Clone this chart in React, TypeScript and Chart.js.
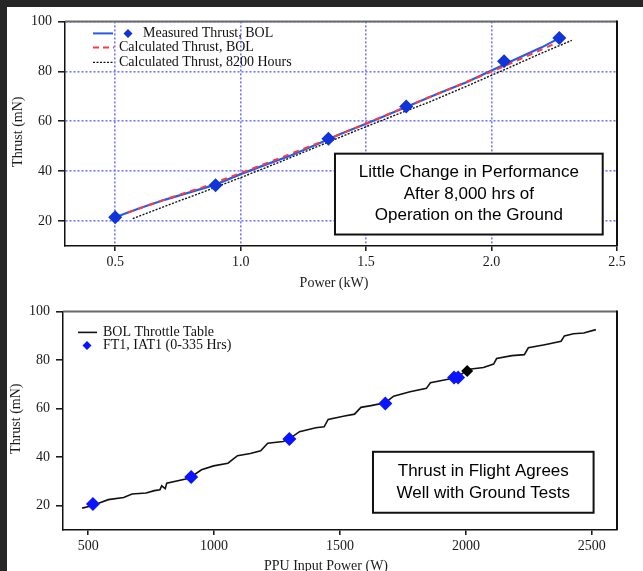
import { useEffect, useRef } from 'react';
import { Chart, registerables } from 'chart.js';

Chart.register(...registerables);

const SERIF = '"Liberation Serif", "Times New Roman", serif';
const SANS = '"Liberation Sans", Arial, sans-serif';

// ---- Upper panel: ground test, thrust vs power (kW) ----
const measuredPowerKW = [0.5, 0.9, 1.35, 1.66, 2.05, 2.27];
const measuredThrustMN = [21.5, 34.3, 53.0, 65.9, 84.0, 93.3];

const measuredCurvePowerKW = [0.5, 0.6, 0.7, 0.8, 0.9, 1.0, 1.1, 1.2, 1.3, 1.4, 1.5, 1.6, 1.7, 1.8, 1.9, 2.0, 2.1, 2.2, 2.27];
const measuredCurveThrustMN = [21.5, 25.2, 28.6, 31.6, 34.6, 38.8, 42.6, 46.3, 50.6, 55.0, 59.0, 63.2, 67.4, 71.6, 75.6, 80.3, 85.0, 89.6, 93.3];

const calcBolPowerKW = [0.55, 0.7, 0.85, 1.0, 1.15, 1.3, 1.45, 1.6, 1.75, 1.9, 2.05, 2.25];
const calcBolThrustMN = [23.4, 28.7, 33.6, 39.2, 45.0, 50.9, 57.0, 63.3, 69.6, 75.7, 82.0, 91.0];

const calc8200PowerKW = [0.57, 0.7, 0.85, 1.0, 1.15, 1.3, 1.45, 1.6, 1.75, 1.9, 2.05, 2.2, 2.32];
const calc8200ThrustMN = [21.0, 26.0, 31.6, 37.4, 43.4, 49.6, 55.8, 61.8, 67.6, 74.0, 80.6, 87.3, 92.4];

const upperXTicks = [0.5, 1.0, 1.5, 2.0, 2.5];
const upperYTicks = [20, 40, 60, 80, 100];

// ---- Lower panel: flight data vs throttle table, thrust vs PPU input power (W) ----
const throttlePowerW = [476, 503, 544, 580, 641, 674, 730, 763, 785, 792, 806, 812, 901, 950, 998, 1055, 1093, 1144, 1185, 1213, 1274, 1299, 1339, 1404, 1437, 1453, 1518, 1558, 1583, 1623, 1680, 1713, 1778, 1843, 1859, 1924, 1964, 2005, 2013, 2070, 2110, 2122, 2183, 2232, 2248, 2313, 2378, 2391, 2427, 2468, 2516];
const throttleThrustMN = [19.0, 19.7, 21.1, 22.5, 23.4, 24.8, 25.2, 26.2, 26.6, 28.2, 27.0, 29.3, 31.3, 34.8, 36.4, 37.5, 40.6, 41.5, 42.6, 45.7, 46.4, 47.5, 50.5, 52.1, 52.5, 55.5, 56.9, 57.7, 60.5, 61.2, 62.4, 65.1, 66.9, 68.3, 70.6, 72.0, 72.8, 75.8, 76.2, 76.9, 78.3, 80.6, 81.8, 82.2, 85.0, 86.3, 87.7, 89.9, 90.8, 91.1, 92.5];

const flightPowerW = [519, 909, 1299, 1680, 1953, 1969];
const flightThrustMN = [20.7, 31.8, 47.5, 62.1, 72.8, 72.8];

const extraPowerW = [2005];
const extraThrustMN = [75.5];

const lowerXTicks = [500, 1000, 1500, 2000, 2500];
const lowerYTicks = [20, 40, 60, 80, 100];

const upperNote = ['Little Change in Performance', 'After 8,000 hrs of', 'Operation on the Ground'];
const lowerNote = ['Thrust in Flight Agrees', 'Well with Ground Tests'];

const pairs = (xs: number[], ys: number[]) => xs.map((x, i) => ({ x, y: ys[i] }));

function diamond(ctx: CanvasRenderingContext2D, x: number, y: number, r: number, color: string) {
  ctx.save();
  ctx.beginPath();
  ctx.moveTo(x, y - r);
  ctx.lineTo(x + r, y);
  ctx.lineTo(x, y + r);
  ctx.lineTo(x - r, y);
  ctx.closePath();
  ctx.fillStyle = color;
  ctx.fill();
  ctx.restore();
}

function sampleLine(ctx: CanvasRenderingContext2D, x1: number, x2: number, y: number, color: string, width: number, dash: number[]) {
  ctx.save();
  ctx.beginPath();
  ctx.setLineDash(dash);
  ctx.strokeStyle = color;
  ctx.lineWidth = width;
  ctx.moveTo(x1, y);
  ctx.lineTo(x2, y);
  ctx.stroke();
  ctx.restore();
}

// Frame (top and right edges), note box and axis titles
function framePlugin(id: string, note: string[], box: [number, number, number, number], xTitle: string, xTitleShift: number, xTitleDrop: number, yTitleX: number) {
  return {
    id,
    afterDraw(chart: any) {
      const { ctx, chartArea: a, scales } = chart;
      ctx.save();
      // top + right edges of the plot frame
      ctx.strokeStyle = '#6a6a6a';
      ctx.lineWidth = 2;
      ctx.beginPath();
      ctx.moveTo(a.left, a.top);
      ctx.lineTo(a.right, a.top);
      ctx.stroke();
      ctx.strokeStyle = '#111';
      ctx.lineWidth = 2;
      ctx.beginPath();
      ctx.moveTo(a.right, a.top - 1);
      ctx.lineTo(a.right, a.bottom);
      ctx.stroke();

      // note box
      const x1 = scales.x.getPixelForValue(box[0]);
      const x2 = scales.x.getPixelForValue(box[1]);
      const y1 = scales.y.getPixelForValue(box[2]);
      const y2 = scales.y.getPixelForValue(box[3]);
      ctx.fillStyle = '#fff';
      ctx.fillRect(x1, y1, x2 - x1, y2 - y1);
      ctx.strokeStyle = '#111';
      ctx.lineWidth = 2;
      ctx.strokeRect(x1, y1, x2 - x1, y2 - y1);
      ctx.fillStyle = '#000';
      ctx.font = `17px ${SANS}`;
      ctx.textAlign = 'center';
      ctx.textBaseline = 'middle';
      const lh = 21.5;
      const cy = (y1 + y2) / 2;
      note.forEach((t, i) => {
        ctx.fillText(t, (x1 + x2) / 2, cy + (i - (note.length - 1) / 2) * lh);
      });

      // axis titles
      ctx.font = `14px ${SERIF}`;
      ctx.fillStyle = '#1a1a1a';
      ctx.fillText(xTitle, (a.left + a.right) / 2 + xTitleShift, a.bottom + xTitleDrop);
      ctx.translate(yTitleX, (a.top + a.bottom) / 2 - 2);
      ctx.rotate(-Math.PI / 2);
      ctx.fillText('Thrust (mN)', 0, 0);
      ctx.restore();
    },
  };
}

const upperLegend = {
  id: 'upperLegend',
  afterDraw(chart: any) {
    const { ctx, chartArea: a } = chart;
    const ds = chart.data.datasets;
    ctx.save();
    ctx.font = `14px ${SERIF}`;
    ctx.textAlign = 'left';
    ctx.textBaseline = 'middle';
    const l = a.left;
    let y = a.top + 12;
    sampleLine(ctx, l + 28, l + 48, y, '#2a5be8', 2, []);
    diamond(ctx, l + 63, y, 4.5, '#1034d8');
    ctx.fillStyle = '#111';
    ctx.fillText(ds[1].label, l + 78, y);
    y = a.top + 26;
    sampleLine(ctx, l + 28, l + 49, y, '#ff3b3b', 2, [6, 4]);
    ctx.fillText(ds[2].label, l + 54, y);
    y = a.top + 41;
    sampleLine(ctx, l + 28, l + 49, y, '#111', 1.2, [2, 1.5]);
    ctx.fillText(ds[3].label, l + 54, y);
    ctx.restore();
  },
};

const lowerLegend = {
  id: 'lowerLegend',
  afterDraw(chart: any) {
    const { ctx, chartArea: a } = chart;
    const ds = chart.data.datasets;
    ctx.save();
    ctx.font = `14px ${SERIF}`;
    ctx.textAlign = 'left';
    ctx.textBaseline = 'middle';
    const l = a.left;
    sampleLine(ctx, l + 15, l + 34, a.top + 21, '#111', 1.6, []);
    diamond(ctx, l + 24, a.top + 34, 4.5, '#0a14ff');
    ctx.fillStyle = '#111';
    ctx.fillText(ds[0].label, l + 40, a.top + 21);
    ctx.fillText(ds[1].label, l + 40, a.top + 34);
    ctx.restore();
  },
};

function axes(xMin: number, xMax: number, xTicks: number[], yTicks: number[], gridOn: boolean, yWidth: number, xHeight: number, fmt: (v: number) => string) {
  const tickFont = { family: SERIF, size: 14 };
  const gridColor = gridOn ? '#7474ff' : 'rgba(0,0,0,0)';
  return {
    x: {
      type: 'linear',
      min: xMin,
      max: xMax,
      afterBuildTicks: (s: any) => { s.ticks = xTicks.map((value) => ({ value })); },
      afterFit: (s: any) => { s.height = xHeight; },
      ticks: { font: tickFont, color: '#1a1a1a', padding: 3, maxRotation: 0, callback: (v: any) => fmt(Number(v)) },
      grid: { color: gridColor, lineWidth: 1.6, drawOnChartArea: gridOn, tickColor: '#111', tickLength: 5, tickWidth: 1.5 },
      border: { display: true, color: '#111', width: 1.5, dash: [2, 2] },
    },
    y: {
      type: 'linear',
      min: 10,
      max: 100,
      afterBuildTicks: (s: any) => { s.ticks = yTicks.map((value) => ({ value })); },
      afterFit: (s: any) => { s.width = yWidth; },
      ticks: { font: tickFont, color: '#1a1a1a', padding: 6 },
      grid: { color: gridColor, lineWidth: 1.6, drawOnChartArea: gridOn, tickColor: '#111', tickLength: 7, tickWidth: 1.5 },
      border: { display: true, color: '#111', width: 1.5, dash: [2, 2] },
    },
  };
}

function upperConfig(): any {
  return {
    type: 'line',
    data: {
      datasets: [
        { label: 'Measured curve', data: pairs(measuredCurvePowerKW, measuredCurveThrustMN), borderColor: '#2a5be8', borderWidth: 2.2, pointRadius: 0, order: 2 },
        { label: 'Measured Thrust, BOL', data: pairs(measuredPowerKW, measuredThrustMN), showLine: false, pointStyle: 'rectRot', pointRadius: 7, backgroundColor: '#1034d8', borderColor: '#1034d8', borderWidth: 0, order: 0 },
        { label: 'Calculated Thrust, BOL', data: pairs(calcBolPowerKW, calcBolThrustMN), borderColor: '#ff3b3b', borderWidth: 2, borderDash: [6, 5], pointRadius: 0, order: 1 },
        { label: 'Calculated Thrust, 8200 Hours', data: pairs(calc8200PowerKW, calc8200ThrustMN), borderColor: '#111', borderWidth: 1.4, borderDash: [2, 1.5], pointRadius: 0, order: 3 },
      ],
    },
    options: {
      animation: false,
      responsive: false,
      events: [],
      layout: { padding: { top: 10, right: 26, left: 0, bottom: 0 } },
      elements: { line: { tension: 0 } },
      plugins: { legend: { display: false }, tooltip: { enabled: false } },
      scales: axes(0.3, 2.5, upperXTicks, upperYTicks, true, 58, 51, (v) => v.toFixed(1)),
    },
    plugins: [framePlugin('upperFrame', upperNote, [1.376, 2.443, 47.0, 14.6], 'Power (kW)', -7, 37, 11), upperLegend],
  };
}

function lowerConfig(): any {
  return {
    type: 'line',
    data: {
      datasets: [
        { label: 'BOL Throttle Table', data: pairs(throttlePowerW, throttleThrustMN), borderColor: '#111', borderWidth: 1.6, pointRadius: 0, order: 2 },
        { label: 'FT1, IAT1 (0-335 Hrs)', data: pairs(flightPowerW, flightThrustMN), showLine: false, pointStyle: 'rectRot', pointRadius: 7, backgroundColor: '#0a14ff', borderColor: '#0a14ff', borderWidth: 0, order: 0 },
        { label: '', data: pairs(extraPowerW, extraThrustMN), showLine: false, pointStyle: 'rectRot', pointRadius: 6, backgroundColor: '#000', borderColor: '#000', borderWidth: 0, order: 1 },
      ],
    },
    options: {
      animation: false,
      responsive: false,
      events: [],
      layout: { padding: { top: 14, right: 26, left: 0, bottom: 0 } },
      elements: { line: { tension: 0 } },
      plugins: { legend: { display: false }, tooltip: { enabled: false } },
      scales: axes(400, 2600, lowerXTicks, lowerYTicks, false, 56, 41, (v) => String(v)),
    },
    plugins: [framePlugin('lowerFrame', lowerNote, [1631, 2507, 42.2, 17.1], 'PPU Input Power (W)', -14, 36, 9.5), lowerLegend],
  };
}

function ChartCanvas({ make, width, height }: { make: () => any; width: number; height: number }) {
  const ref = useRef<HTMLCanvasElement>(null);
  useEffect(() => {
    if (!ref.current) return;
    const chart = new Chart(ref.current, make());
    return () => chart.destroy();
  }, [make]);
  return <canvas ref={ref} width={width} height={height} style={{ width, height, display: 'block' }} />;
}

export default function App() {
  return (
    <div style={{ position: 'fixed', left: 0, top: 0, width: 643, height: 571, background: '#262626', overflow: 'hidden' }}>
      <div style={{ position: 'absolute', left: 7, top: 7, right: 0, bottom: 0, background: '#fff' }} />
      <div style={{ position: 'absolute', left: 7, top: 7 }}>
        <ChartCanvas make={upperConfig} width={636} height={290} />
      </div>
      <div style={{ position: 'absolute', left: 7, top: 297 }}>
        <ChartCanvas make={lowerConfig} width={636} height={274} />
      </div>
    </div>
  );
}
